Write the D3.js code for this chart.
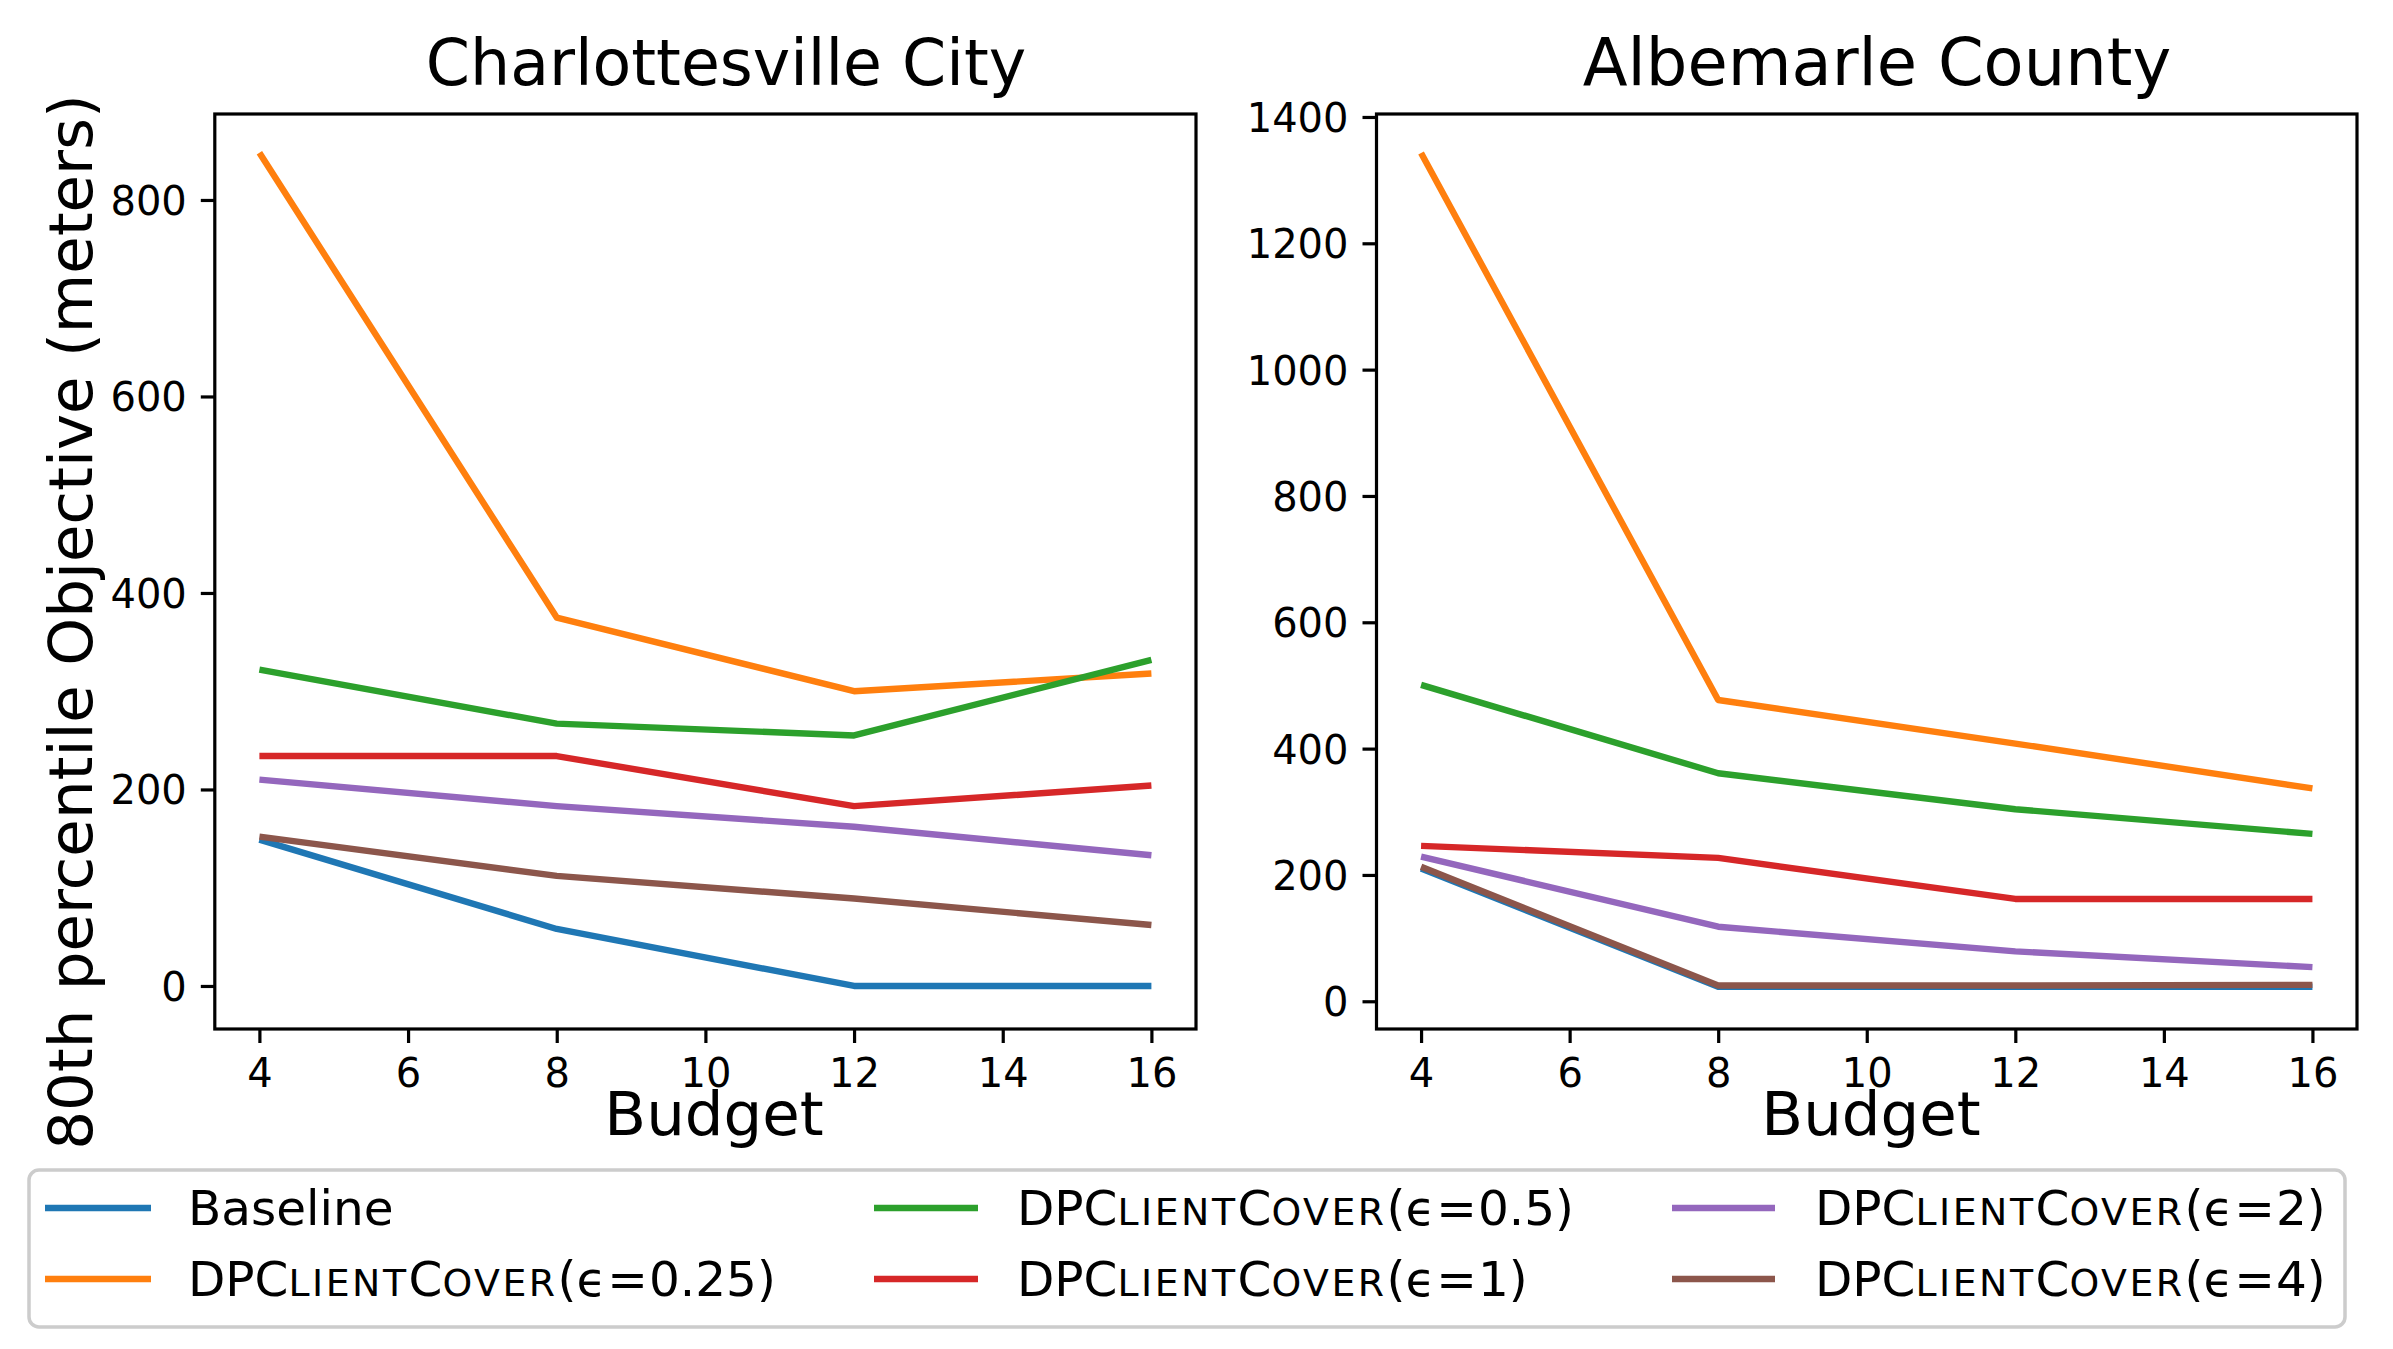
<!DOCTYPE html>
<html>
<head>
<meta charset="utf-8">
<script src="https://cdn.jsdelivr.net/npm/d3@7/dist/d3.min.js"></script>
<style>
  html, body { margin: 0; padding: 0; background: #fff; }
  svg { display: block; }
  text { font-family: "DejaVu Sans", sans-serif; fill: #000; }
</style>
</head>
<body>
<svg id="chart" width="2393" height="1349"></svg>
<script>
// ---------------- data ----------------
const budgets = [4, 8, 12, 16];
const seriesNames = ["Baseline", "DPClientCover(ϵ=0.25)", "DPClientCover(ϵ=0.5)",
                     "DPClientCover(ϵ=1)", "DPClientCover(ϵ=2)", "DPClientCover(ϵ=4)"];
const seriesColors = ["#1f77b4", "#ff7f0e", "#2ca02c", "#d62728", "#9467bd", "#8c564b"];

const cityBaseline = [149, 58, 0, 0];
const cityEps025   = [848, 375, 300, 318];
const cityEps05    = [322, 267, 255, 332];
const cityEps1     = [234, 234, 183, 204];
const cityEps2     = [210, 183, 162, 133];
const cityEps4     = [152, 112, 89, 62];

const countyBaseline = [210, 23, 23, 23];
const countyEps025   = [1343, 477, 408, 337];
const countyEps05    = [501, 361, 304, 265];
const countyEps1     = [246, 227, 162, 162];
const countyEps2     = [229, 118, 79, 54];
const countyEps4     = [213, 25, 25, 26];

const xTicks = [4, 6, 8, 10, 12, 14, 16];
const cityYTicks = [0, 200, 400, 600, 800];
const countyYTicks = [0, 200, 400, 600, 800, 1000, 1200, 1400];

const panelTitles = ["Charlottesville City", "Albemarle County"];
const xLabel = "Budget";
const yLabel = "80th percentile Objective (meters)";

// ---------------- layout ----------------
const svg = d3.select("#chart");
const panels = [
  { title: panelTitles[0], series: [cityBaseline, cityEps025, cityEps05, cityEps1, cityEps2, cityEps4],
    yTicks: cityYTicks, yDomain: [-43.8, 887.5], x0: 214.8, x1: 1196, titleX: 726, titleSize: 63.3, xLabelX: 714 },
  { title: panelTitles[1], series: [countyBaseline, countyEps025, countyEps05, countyEps1, countyEps2, countyEps4],
    yTicks: countyYTicks, yDomain: [-43.9, 1404.7], x0: 1376.5, x1: 2357, titleX: 1877, titleSize: 65.5, xLabelX: 1871 }
];
const plotTop = 114, plotBottom = 1029;
const lineW = 6.4;

panels.forEach(p => {
  const x = d3.scaleLinear().domain([3.4, 16.6]).range([p.x0, p.x1]);
  const y = d3.scaleLinear().domain(p.yDomain).range([plotBottom, plotTop]);
  const g = svg.append("g");

  // lines
  const line = d3.line().x((d, i) => x(budgets[i])).y(d => y(d));
  p.series.forEach((s, k) => {
    g.append("path").datum(s)
      .attr("d", line)
      .attr("fill", "none")
      .attr("stroke", seriesColors[k])
      .attr("stroke-width", lineW)
      .attr("stroke-linecap", "butt")
      .attr("stroke-linejoin", "round");
  });

  // axes
  const xa = g.append("g").attr("transform", `translate(0,${plotBottom})`)
    .call(d3.axisBottom(x).tickValues(xTicks).tickSize(14).tickPadding(16).tickFormat(d3.format("d")));
  const ya = g.append("g").attr("transform", `translate(${p.x0},0)`)
    .call(d3.axisLeft(y).tickValues(p.yTicks).tickSize(14).tickPadding(14).tickFormat(d3.format("d")));
  [xa, ya].forEach(a => {
    a.select(".domain").remove();
    a.selectAll(".tick line").attr("stroke", "#000").attr("stroke-width", 3.2);
    a.selectAll(".tick text").attr("font-size", 40).attr("font-family", "DejaVu Sans").attr("fill", "#000");
  });
  ya.selectAll(".tick text").attr("dy", "0.36em");

  // frame
  g.append("rect")
    .attr("x", p.x0).attr("y", plotTop)
    .attr("width", p.x1 - p.x0).attr("height", plotBottom - plotTop)
    .attr("fill", "none").attr("stroke", "#000").attr("stroke-width", 3.2);

  // title
  g.append("text").attr("x", p.titleX).attr("y", 85)
    .attr("text-anchor", "middle").attr("font-size", p.titleSize).text(p.title);
  // x label
  g.append("text").attr("x", p.xLabelX).attr("y", 1135)
    .attr("text-anchor", "middle").attr("font-size", 61).text(xLabel);
});

// y label
svg.append("text")
  .attr("transform", "translate(92,622) rotate(-90)")
  .attr("text-anchor", "middle").attr("font-size", 61).text(yLabel);

// ---------------- legend ----------------
const legend = svg.append("g");
legend.append("rect")
  .attr("x", 29).attr("y", 1170).attr("width", 2316).attr("height", 157)
  .attr("rx", 10).attr("ry", 10)
  .attr("fill", "#fff").attr("fill-opacity", 0.8)
  .attr("stroke", "#cccccc").attr("stroke-width", 3.5);

const colX = [{ l0: 45, l1: 151, t: 188 }, { l0: 874, l1: 978, t: 1017 }, { l0: 1672, l1: 1775, t: 1815 }];
const rowY = [1208, 1279];
const legFont = 48.5;

function addLabel(sel, label) {
  const m = label.match(/^DP(ClientCover)\((.*)\)$/);
  if (!m) { sel.text(label); return; }
  sel.append("tspan").text("DP");
  const word = m[1];
  let runs = [];
  for (const ch of word) {
    const small = ch === ch.toLowerCase();
    if (runs.length && runs[runs.length - 1].small === small) runs[runs.length - 1].s += ch;
    else runs.push({ small, s: ch });
  }
  runs.forEach(r => {
    const t = sel.append("tspan").attr("font-size", r.small ? legFont * 0.78 : legFont).text(r.s.toUpperCase());
    if (r.small) t.attr("letter-spacing", 2.5);
  });
  const inner = m[2];
  const parts = inner.split("=");
  sel.append("tspan").attr("font-size", legFont).text("(" + parts[0]);
  sel.append("tspan").attr("dx", 1).text("=");
  sel.append("tspan").attr("dx", 1).text(parts[1] + ")");
}

seriesNames.forEach((name, i) => {
  const col = Math.floor(i / 2), row = i % 2;
  const c = colX[col], yy = rowY[row];
  legend.append("line")
    .attr("x1", c.l0).attr("x2", c.l1).attr("y1", yy).attr("y2", yy)
    .attr("stroke", seriesColors[i]).attr("stroke-width", lineW);
  const t = legend.append("text").attr("x", c.t).attr("y", yy).attr("dy", "0.36em")
    .attr("font-size", legFont);
  addLabel(t, name);
});
</script>
</body>
</html>
